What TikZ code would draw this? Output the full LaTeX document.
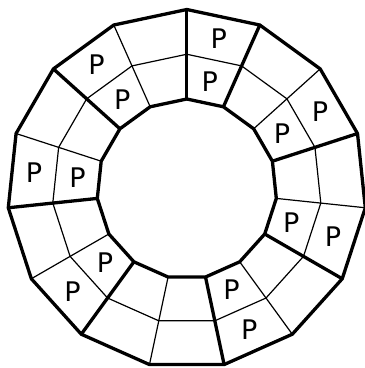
\documentclass[tikz,border=0pt]{standalone}
\usepackage{fontspec}
\setmainfont{DejaVu Sans}
\begin{document}
\begin{tikzpicture}[x=1pt,y=1pt,
  thickline/.style={line width=3.3pt},
  thinline/.style={line width=1.2pt},
  plabel/.style={font=\fontsize{27}{27}\selectfont, inner sep=0pt}]
\useasboundingbox (-186.8,-179) rectangle (178.2,189);
\foreach \k in {0,...,14}{
  \pgfmathsetmacro\a{90-24*\k}
  \coordinate (o\k) at (\a:179.5);
  \coordinate (m\k) at (\a:134.75);
  \coordinate (i\k) at (\a:90);
}
% middle ring (thin)
\draw[thinline] (m0) \foreach \k in {1,...,14}{ -- (m\k)} -- cycle;
% thin radial lines
\foreach \k in {2,4,...,14}{
  \draw[thinline] (o\k) -- (i\k);
}
% thick radial lines
\foreach \k in {0,1,3,5,7,9,11,13}{
  \draw[thickline] (o\k) -- (i\k);
}
% outer and inner polygons
\draw[thickline] (o0) \foreach \k in {1,...,14}{ -- (o\k)} -- cycle;
\draw[thickline] (i0) \foreach \k in {1,...,14}{ -- (i\k)} -- cycle;
% labels
\foreach \s in {0,2,4,6,9,11,13}{
  \pgfmathsetmacro\c{78-24*\s}
  \node[plabel] (po\s) at (\c:153.7) {P};
  \node[plabel] (pi\s) at (\c:109.9) {P};
}
\end{tikzpicture}
\end{document}
